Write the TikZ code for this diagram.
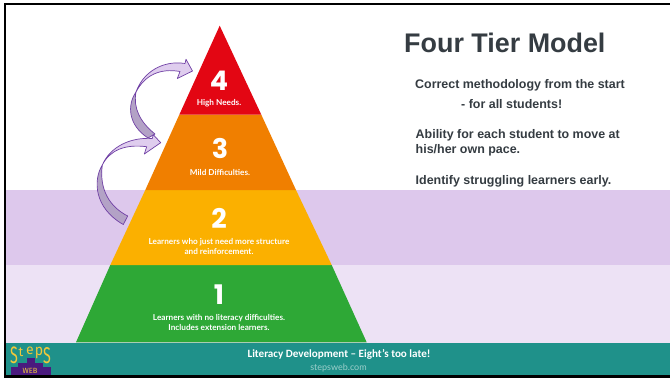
\documentclass[tikz,border=0pt]{standalone}
\usepackage{fontspec}
\setmainfont{Liberation Sans}
\newfontfamily\numfont{Poppins}
\newfontfamily\capfont{Lato}
\newfontfamily\footfont{Carlito}
\newfontfamily\logofont{Fira Sans}
\definecolor{bandA}{HTML}{DDC8EC}
\definecolor{bandB}{HTML}{EDE2F5}
\definecolor{teal}{HTML}{1F918A}
\definecolor{tierfour}{HTML}{E30613}
\definecolor{tierthree}{HTML}{F07F00}
\definecolor{tiertwo}{HTML}{FBB000}
\definecolor{tierone}{HTML}{2EA836}
\definecolor{arrowlight}{HTML}{DFCDEE}
\definecolor{arrowdark}{HTML}{B3A2C6}
\definecolor{arrowedge}{HTML}{7040A5}
\definecolor{inktext}{HTML}{353C42}
\definecolor{urlcol}{HTML}{9CCFCB}
\definecolor{logopurple}{HTML}{4A1A7E}
\definecolor{logoyellow}{HTML}{F2C83A}
\tikzset{
  tiernum/.style={text=white,font=\numfont\fontsize{27}{27}\selectfont\bfseries,anchor=center,inner sep=0pt},
  tiercap/.style={text=white,font=\capfont\fontsize{8.2}{10}\selectfont\bfseries,anchor=center,align=center,inner sep=0pt},
  bodytext/.style={text=inktext,font=\fontsize{12.45}{14}\selectfont\bfseries,anchor=base west,inner sep=0pt},
  lightpart/.style={fill=arrowlight,draw=arrowedge,line width=0.7pt,line join=round},
  darkpart/.style={fill=arrowdark,draw=arrowedge,line width=0.7pt,line join=round},
  logoletter/.style={text=logoyellow,inner sep=0pt,anchor=center},
}
\begin{document}
\begin{tikzpicture}[x=1pt,y=-1pt]
\useasboundingbox (0,0) rectangle (670,381);
\fill[white] (0,0) rectangle (670,381);
% bands
\fill[bandA] (6,190) rectangle (670,265);
\fill[bandB] (6,265) rectangle (670,342.5);
\fill[teal] (6,342.5) rectangle (670,375);
% frame
\fill[black] (4,3) rectangle (670,5);
\fill[black] (4,3) rectangle (6,377.5);
\fill[black] (4,375) rectangle (670,377.5);
% pyramid
\fill[tierone] (110.3,265) -- (331.7,265) -- (366.7,342.3) -- (76,342.3) -- cycle;
\fill[tiertwo] (145.3,190) -- (296,190) -- (331.7,265) -- (110.3,265) -- cycle;
\fill[tierthree] (179.3,114.7) -- (261.3,114.7) -- (296,190) -- (145.3,190) -- cycle;
\fill[tierfour] (219.7,25.7) -- (261.3,114.7) -- (179.3,114.7) -- cycle;
\node[tiernum] (n4) at (219,81) {4};
\node[tiercap] (c4) at (219,103) {High Needs.};
\node[tiernum] (n3) at (220,148) {3};
\node[tiercap] (c3) at (220,172) {Mild Difficulties.};
\node[tiernum] (n2) at (219,218) {2};
\node[tiercap] (c2) at (219,246) {Learners who just need more structure\\and reinforcement.};
\node[tiernum] (n1) at (219,295) {1};
\node[tiercap] (c1) at (219,322) {Learners with no literacy difficulties.\\Includes extension learners.};
% arrows
\path[darkpart] (136,92) .. controls (127,105) and (128,125) .. (148,138) -- (155,134) .. controls (140,122) and (133,108) .. (136,92) -- cycle;
\path[lightpart] (136,92) .. controls (143,72) and (163,60) .. (185,63.5) -- (186,59.3) -- (192.5,71) -- (177.3,78.5) -- (180,71.5) .. controls (160,68) and (145,75) .. (136,92) -- cycle;
\path[darkpart] (102.3,165) .. controls (93,180) and (94,208) .. (123.3,224.5) -- (127.7,216) .. controls (110,207) and (99,190) .. (102.3,165) -- cycle;
\path[lightpart] (102.3,165) .. controls (110,147) and (130,137) .. (152.3,138.5) -- (153.3,134.7) -- (160.7,142.7) -- (144.3,154) -- (146.7,146.7) .. controls (125,144) and (110,150) .. (102.3,165) -- cycle;
% right text
\node[anchor=base west,inner sep=0pt,text=inktext,font=\fontsize{26.9}{30}\selectfont\bfseries] (title) at (404,52) {Four Tier Model};
\node[bodytext] (t1) at (415,88) {Correct methodology from the start};
\node[bodytext] (t2) at (461,108) {- for all students!};
\node[bodytext] (t3) at (415.5,138) {Ability for each student to move at};
\node[bodytext] (t4) at (415.5,153) {his/her own pace.};
\node[bodytext] (t5) at (415.5,184) {Identify struggling learners early.};
% footer
\node[anchor=base,inner sep=0pt,text=white,font=\footfont\fontsize{11.1}{13}\selectfont\bfseries] (foot) at (339,357.5) {Literacy Development – Eight’s too late!};
\node[anchor=base,inner sep=0pt,text=urlcol,font=\capfont\fontsize{9}{10}\selectfont] (url) at (338.5,370) {stepsweb.com};
% logo
\fill[logopurple] (11,367.3) rectangle (51,374.5);
\fill[logopurple] (18,363) rectangle (43,367.5);
\fill[logopurple] (26.7,357.7) rectangle (35,363.2);
\node[logoletter,font=\logofont\fontsize{7.5}{7.5}\selectfont] (lw) at (30,370.6) {WEB};
\node[logoletter,font=\logofont\fontsize{19}{19}\selectfont,xscale=0.75,yscale=1.25] (l1) at (14,355) {S};
\node[logoletter,font=\logofont\fontsize{13}{13}\selectfont] (l2) at (21,352.5) {t};
\node[logoletter,font=\logofont\fontsize{14}{14}\selectfont] (l3) at (30,351) {e};
\node[logoletter,font=\logofont\fontsize{14}{14}\selectfont,yscale=1.1] (l4) at (39,353) {p};
\node[logoletter,font=\logofont\fontsize{19}{19}\selectfont,xscale=0.75,yscale=1.2] (l5) at (47,355.5) {S};
\end{tikzpicture}
\end{document}
